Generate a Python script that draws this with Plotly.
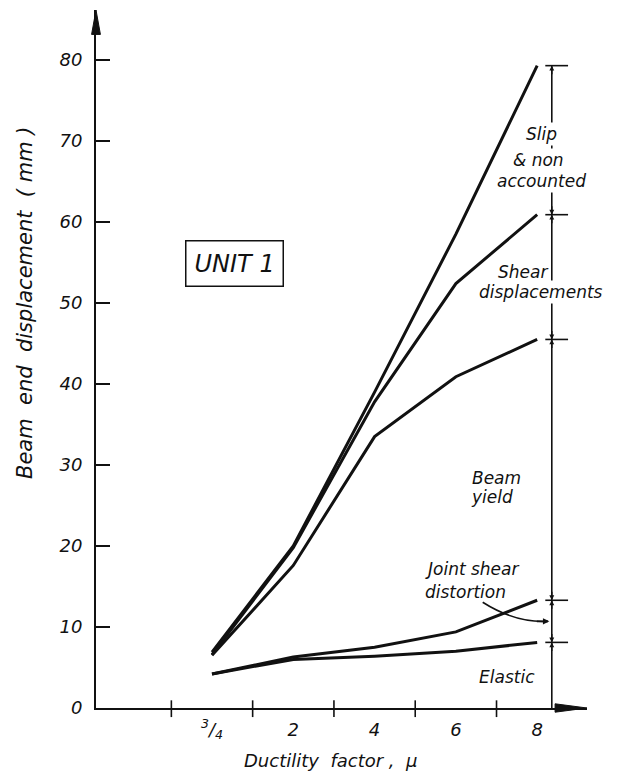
import plotly.graph_objects as go

# ---------------- data ----------------
ductility_labels = ["<sup>3</sup>/<sub>4</sub>", "2", "4", "6", "8"]
ductility_pos = [0, 1, 2, 3, 4]

slip_total = [6.9, 20.0, 39.0, 58.5, 79.3]       # slip & non accounted (total)
shear_total = [6.6, 19.8, 37.8, 52.4, 60.9]      # shear displacements
beam_total = [6.5, 17.6, 33.5, 40.9, 45.5]       # beam yield
joint_total = [4.2, 6.3, 7.5, 9.4, 13.3]         # joint shear distortion
elastic_total = [4.2, 6.0, 6.4, 7.0, 8.1]        # elastic

y_ticks = [0, 10, 20, 30, 40, 50, 60, 70, 80]

FONT = "DejaVu Sans"
INK = "#111111"

fig = go.Figure()
for ys in [slip_total, shear_total, beam_total, joint_total, elastic_total]:
    fig.add_trace(go.Scatter(x=ductility_pos, y=ys, mode="lines",
                             line=dict(color=INK, width=3), showlegend=False,
                             hoverinfo="skip"))

# dimension line at right
dim_x = 4.18
ends = [0, elastic_total[-1], joint_total[-1], beam_total[-1], shear_total[-1], slip_total[-1]]
shapes = []
shapes.append(dict(type="line", xref="x", yref="y", x0=dim_x, x1=dim_x, y0=0, y1=slip_total[-1],
                   line=dict(color=INK, width=1.6), layer="below"))
for v in ends[1:]:
    shapes.append(dict(type="line", xref="x", yref="y", x0=dim_x - 0.08, x1=dim_x + 0.2, y0=v, y1=v,
                       line=dict(color=INK, width=1.6)))

# x-axis crossing ticks
for b in [-0.5, 0.5, 1.5, 2.5, 3.5]:
    shapes.append(dict(type="line", xref="x", yref="paper", x0=b, x1=b, y0=-0.013, y1=0.011,
                       line=dict(color=INK, width=1.6)))

# axis arrowheads (paper coords)
shapes.append(dict(type="path", xref="paper", yref="paper",
                   path="M -0.009 0.965 L 0 1.0 L 0.009 0.965 Z",
                   fillcolor=INK, line=dict(color=INK, width=1)))
shapes.append(dict(type="path", xref="paper", yref="paper",
                   path="M 0.935 0.006 L 1.0 0 L 0.935 -0.006 Z",
                   fillcolor=INK, line=dict(color=INK, width=1)))

# curved arrow for joint shear distortion
shapes.append(dict(type="path", xref="x", yref="y",
                   path="M 3.33 13.05 Q 3.73 10.5 4.13 10.7",
                   line=dict(color=INK, width=1.6)))

annotations = []


def txt(t, x, y, size=17, bg=False, **kw):
    d = dict(text=t, x=x, y=y, xref="x", yref="y", showarrow=False,
             font=dict(family=FONT, size=size, color=INK, style="italic"),
             xanchor="center", yanchor="middle")
    if bg:
        d.update(bgcolor="white", borderpad=1)
    d.update(kw)
    annotations.append(d)


# labels (positions in data units)
txt("Slip", 4.05, 70.9, bg=True)
txt("& non", 4.02, 67.6, bg=True)
txt("accounted", 4.05, 65.0, bg=True)
txt("Shear", 3.82, 53.8, bg=True)
txt("displacements", 4.05, 51.4, bg=True)
txt("Beam", 3.5, 28.4)
txt("yield", 3.45, 26.0)
txt("Joint shear", 3.2, 17.1)
txt("distortion", 3.12, 14.3)
txt("Elastic", 3.63, 3.8)

# arrowheads on dimension line
segs = list(zip(ends[:-1], ends[1:]))
for lo, hi in segs:
    for tip, ay in [(hi, 10), (lo, -10)]:
        if tip == 0:
            continue
        annotations.append(dict(x=dim_x, y=tip, xref="x", yref="y", ax=0, ay=ay, text="",
                                showarrow=True, arrowhead=2, arrowsize=0.7, arrowwidth=1.4,
                                arrowcolor=INK, standoff=0))
# arrowhead of distortion pointer
annotations.append(dict(x=4.15, y=10.7, xref="x", yref="y", ax=-14, ay=0, text="",
                        showarrow=True, arrowhead=2, arrowsize=0.8, arrowwidth=1.6,
                        arrowcolor=INK, standoff=0))

# UNIT 1 box
annotations.append(dict(text="UNIT 1", x=0.28, y=54.9, xref="x", yref="y", showarrow=False,
                        font=dict(family=FONT, size=24, color=INK, style="italic"),
                        bordercolor=INK, borderwidth=1.5, borderpad=8, bgcolor="white"))

# axis titles
annotations.append(dict(text="Beam\u00a0 end\u00a0 displacement\u00a0 (\u00a0mm\u00a0)",
                        xref="paper", yref="paper", x=-0.145, y=0.58, textangle=-90,
                        showarrow=False, xanchor="center", yanchor="middle",
                        font=dict(family=FONT, size=21, color=INK, style="italic")))
annotations.append(dict(text="Ductility\u00a0 factor\u00a0,\u00a0 \u03bc",
                        xref="paper", yref="paper", x=0.478, y=-0.075, showarrow=False,
                        xanchor="center", yanchor="middle",
                        font=dict(family=FONT, size=18, color=INK, style="italic")))

fig.update_layout(
    width=627, height=779,
    margin=dict(l=96, r=40, t=10, b=71),
    paper_bgcolor="white", plot_bgcolor="white",
    shapes=shapes, annotations=annotations,
    xaxis=dict(range=[-1.427, 4.613], tickvals=ductility_pos, ticktext=ductility_labels,
               showline=True, linecolor=INK, linewidth=2, ticks="", showgrid=False,
               zeroline=False, ticklabelstandoff=4,
               tickfont=dict(family=FONT, size=18, color=INK, style="italic")),
    yaxis=dict(range=[0, 86.17], tickvals=y_ticks, showline=True, linecolor=INK, linewidth=2,
               ticks="inside", ticklen=14, tickwidth=1.6, tickcolor=INK, showgrid=False,
               zeroline=False, ticklabelstandoff=8,
               tickfont=dict(family=FONT, size=18, color=INK, style="italic")),
)

fig.write_html("out.html")
